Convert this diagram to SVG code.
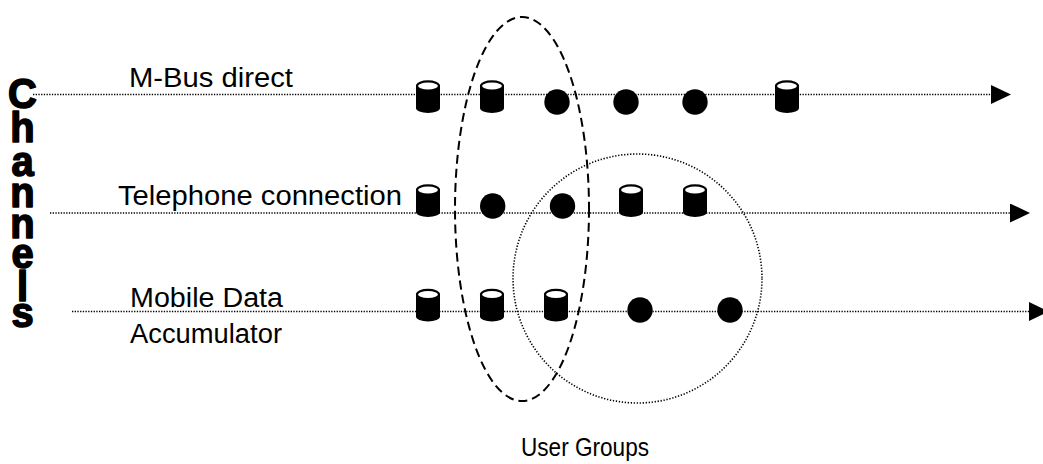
<svg xmlns="http://www.w3.org/2000/svg" width="1043" height="464" viewBox="0 0 1043 464">
  <style>
    .label { font-family: "Liberation Sans", Arial, sans-serif; font-size: 27px; fill: #000; }
    .title { font-family: "Liberation Sans", Arial, sans-serif; font-size: 42px; font-weight: bold; fill: #000; text-anchor: middle; stroke: #000; stroke-width: 1.6; stroke-linejoin: round; }
    .caption { font-family: "Liberation Sans", Arial, sans-serif; font-size: 26px; fill: #000; }
    .channel { fill: none; stroke: #000; stroke-width: 1.6; stroke-dasharray: 1.3 1.4; }
    .group-a { fill: none; stroke: #000; stroke-width: 2; stroke-dasharray: 9 5; }
    .group-b { fill: none; stroke: #000; stroke-width: 1.6; stroke-dasharray: 1.3 1.7; }
    .dot { fill: #000; }
  </style>
  <defs>
    <marker id="arrow" markerUnits="userSpaceOnUse" markerWidth="21" markerHeight="20" refX="0" refY="9.5" orient="auto">
      <path d="M0,0 L20,9.5 L0,19 Z" fill="#000"/>
    </marker>
    <g id="cyl">
      <path d="M-12,-11 L-12,11 A12,5 0 0 0 12,11 L12,-11 Z" fill="#000"/>
      <ellipse cx="0" cy="-11" rx="11" ry="4.6" fill="#fff" stroke="#000" stroke-width="2.2"/>
    </g>
  </defs>

  <rect width="1043" height="464" fill="#fff"/>

  <!-- vertical stacked title -->
  <g id="title-channels" transform="translate(22.5,0) scale(0.95,1)">
    <text class="title"><tspan x="0" y="108">C</tspan><tspan x="0" y="142">h</tspan><tspan x="0" y="176">a</tspan><tspan x="0" y="207">n</tspan><tspan x="0" y="238">n</tspan><tspan x="0" y="268">e</tspan><tspan x="0" y="301">l</tspan><tspan x="0" y="327">s</tspan></text>
  </g>

  <!-- channel lines -->
  <g id="connectors">
    <line class="channel" x1="33" y1="94.5" x2="991" y2="94.5" marker-end="url(#arrow)"/>
    <line class="channel" x1="50" y1="213" x2="1010" y2="213" marker-end="url(#arrow)"/>
    <line class="channel" x1="72" y1="311.5" x2="1029" y2="311.5" marker-end="url(#arrow)"/>
  </g>

  <!-- channel labels -->
  <g id="labels">
    <text class="label" x="129" y="87" textLength="164" lengthAdjust="spacingAndGlyphs">M-Bus direct</text>
    <text class="label" x="118" y="205" textLength="284" lengthAdjust="spacingAndGlyphs">Telephone connection</text>
    <text class="label" x="130" y="307" textLength="153" lengthAdjust="spacingAndGlyphs">Mobile Data</text>
    <text class="label" x="130" y="343" textLength="152" lengthAdjust="spacingAndGlyphs">Accumulator</text>
  </g>

  <!-- user group outlines -->
  <g id="user-groups">
    <ellipse class="group-a" cx="522" cy="209" rx="67" ry="192"/>
    <circle class="group-b" cx="637.5" cy="278.5" r="124.5"/>
    <text class="caption" x="521" y="456" textLength="128" lengthAdjust="spacingAndGlyphs">User Groups</text>
  </g>

  <!-- M-Bus direct -->
  <g id="n1-1"><use href="#cyl" x="428" y="97"/></g>
  <g id="n1-2"><use href="#cyl" x="492" y="97"/></g>
  <g id="n1-3"><circle class="dot" cx="557" cy="102" r="12.7"/></g>
  <g id="n1-4"><circle class="dot" cx="626" cy="102" r="12.7"/></g>
  <g id="n1-5"><circle class="dot" cx="695" cy="102" r="12.7"/></g>
  <g id="n1-6"><use href="#cyl" x="787" y="97"/></g>

  <!-- Telephone connection -->
  <g id="n2-1"><use href="#cyl" x="428" y="201"/></g>
  <g id="n2-2"><circle class="dot" cx="492.7" cy="206" r="12.7"/></g>
  <g id="n2-3"><circle class="dot" cx="562.5" cy="206" r="12.7"/></g>
  <g id="n2-4"><use href="#cyl" x="631" y="201"/></g>
  <g id="n2-5"><use href="#cyl" x="695" y="201"/></g>

  <!-- Mobile Data Accumulator -->
  <g id="n3-1"><use href="#cyl" x="428" y="305.5"/></g>
  <g id="n3-2"><use href="#cyl" x="492" y="305.5"/></g>
  <g id="n3-3"><use href="#cyl" x="556" y="305.5"/></g>
  <g id="n3-4"><circle class="dot" cx="640" cy="310" r="12.7"/></g>
  <g id="n3-5"><circle class="dot" cx="730" cy="310" r="12.7"/></g>
</svg>
